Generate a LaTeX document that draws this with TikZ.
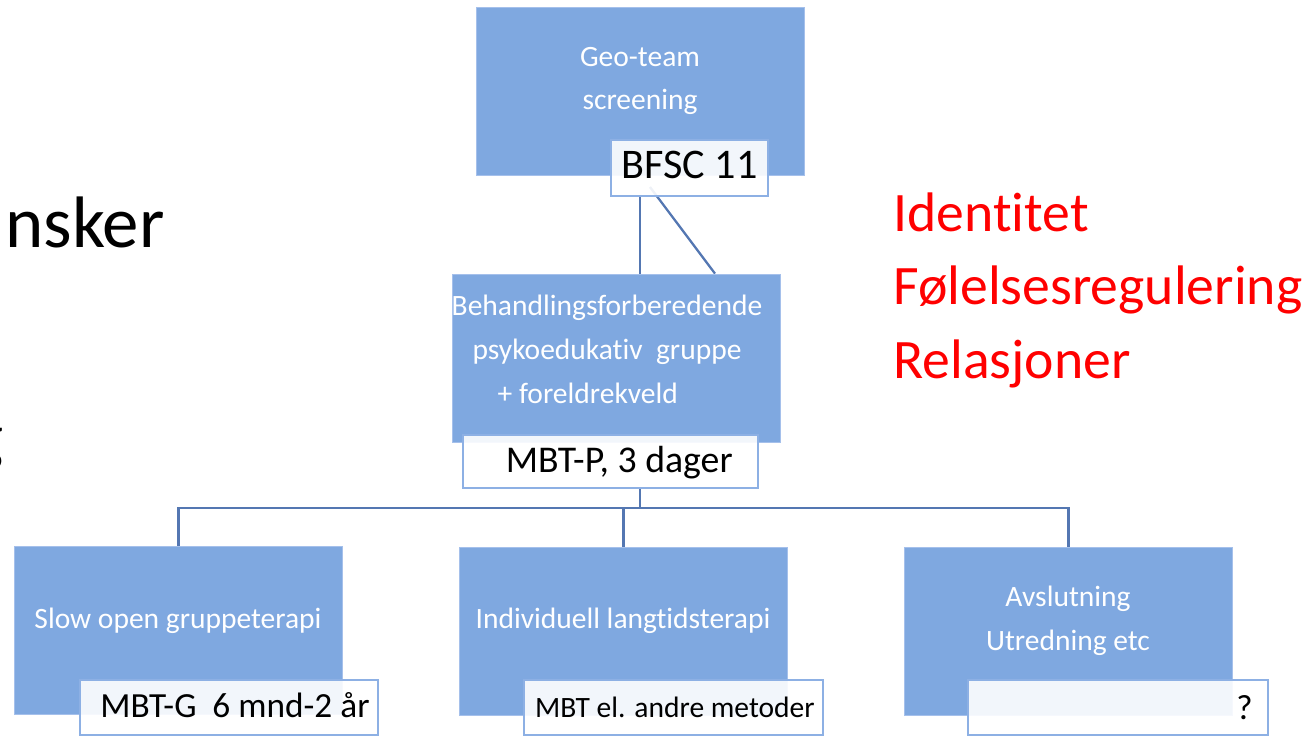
\documentclass[tikz,border=0pt]{standalone}
\usepackage{fontspec}
\setmainfont{Carlito}[Ligatures=NoCommon]
\usetikzlibrary{positioning,backgrounds}
\definecolor{boksblaa}{RGB}{127,168,224}
\definecolor{kantblaa}{RGB}{165,192,235}
\definecolor{linjeblaa}{RGB}{84,119,178}
\definecolor{etikettkant}{RGB}{141,176,228}
\tikzset{
  boks/.style={rectangle, fill=boksblaa, draw=kantblaa, line width=0.5pt,
    minimum width=6.56cm, minimum height=3.36cm, inner sep=0pt},
  hvittekst/.style={text=white, align=center, inner sep=0pt,
    font=\fontsize{16.8}{25}\selectfont},
  etikett/.style={rectangle, draw=etikettkant, line width=1.2pt, fill=white,
    fill opacity=0.9, inner sep=0pt, minimum width=5.98cm, minimum height=1.1cm},
  etikettekst/.style={anchor=base east, inner sep=0pt, text=black},
  kobling/.style={draw=linjeblaa, line width=1.3pt},
  rodtekst/.style={text=red, anchor=base west, inner sep=0pt,
    font=\fontsize{31.7}{36}\selectfont}
}
\begin{document}
\begin{tikzpicture}[x=0.02cm, y=-0.02cm]
        \useasboundingbox (0,0) rectangle (1309,736);
        % tekst i venstre kant
        \node[anchor=base west, inner sep=0pt, font=\fontsize{41.5}{48}\selectfont] (onsker) at (5,248) {nsker};
        \node[anchor=base east, inner sep=0pt, font=\fontsize{40}{48}\selectfont] (bokstav) at (4,461) {g};
        % blaa bokser
        \node[boks] (geo) at (640,91) {};
        \node[boks] (beh) at (616,358) {};
        \node[boks] (slow) at (178.5,630.5) {};
        \node[boks] (indiv) at (623.5,631) {};
        \node[boks] (avsl) at (1068.5,631.5) {};
        \node[hvittekst] (geotekst) at (640,81) {Geo-team\\screening};
        \node[hvittekst] (behtekst) at (607,349) {Behandlingsforberedende\\psykoedukativ~ gruppe\\+ foreldrekveld\hspace*{1.3em}};
        \node[hvittekst] (slowtekst) at (178,621) {Slow open gruppeterapi};
        \node[hvittekst] (indivtekst) at (623,621) {Individuell langtidsterapi};
        \node[hvittekst] (avsltekst) at (1068,621) {Avslutning\\Utredning etc};
        % etiketter
        \node[etikett, minimum width=3.14cm, minimum height=1.12cm] (bfsc) at (689.5,168) {};
        \node[etikett, minimum width=5.9cm, minimum height=1.06cm] (mbtp) at (610.5,461.5) {};
        \node[etikett, minimum width=5.96cm] (mbtg) at (229,707.5) {};
        \node[etikett] (mbtel) at (673.5,707.5) {};
        \node[etikett, minimum width=6cm] (spm) at (1118,707.5) {};
        \node[etikettekst, font=\fontsize{24}{28}\selectfont] (bfsctekst) at (758,179) {BFSC 11};
        \node[etikettekst, font=\fontsize{21.5}{25}\selectfont] (mbtptekst) at (733,473) {MBT-P, 3 dager};
        \node[etikettekst, font=\fontsize{20.1}{24}\selectfont] (mbtgtekst) at (370,717) {MBT-G~ 6 mnd-2 år};
        \node[etikettekst, font=\fontsize{16.8}{20}\selectfont] (mbteltekst) at (815,717) {MBT el. andre metoder};
        \node[etikettekst, font=\fontsize{20}{24}\selectfont] (spmtekst) at (1253,719) {?};
        % roed tekst
        \node[rodtekst] (identitet) at (893,232) {Identitet};
        \node[rodtekst] (folelse) at (893,305) {Følelsesregulering};
        \node[rodtekst] (relasjon) at (893,379) {Relasjoner};
        % koblinger
        \coordinate (buss) at (640,508);
        \begin{scope}[on background layer]
        \draw[kobling] (geo.center |- bfsc.south) -- (geo.center |- beh.north);
        \draw[kobling] ([xshift=-0.79cm, yshift=0.2cm]bfsc.south) -- ([xshift=1.98cm]beh.north);
        \draw[kobling] (geo.center |- mbtp.south) -- (buss);
        \draw[kobling] (slow.north) |- (buss) -| (avsl.north);
        \draw[kobling] (indiv.north) -- (indiv.north |- buss);
        \end{scope}
        \end{tikzpicture}
\end{document}
